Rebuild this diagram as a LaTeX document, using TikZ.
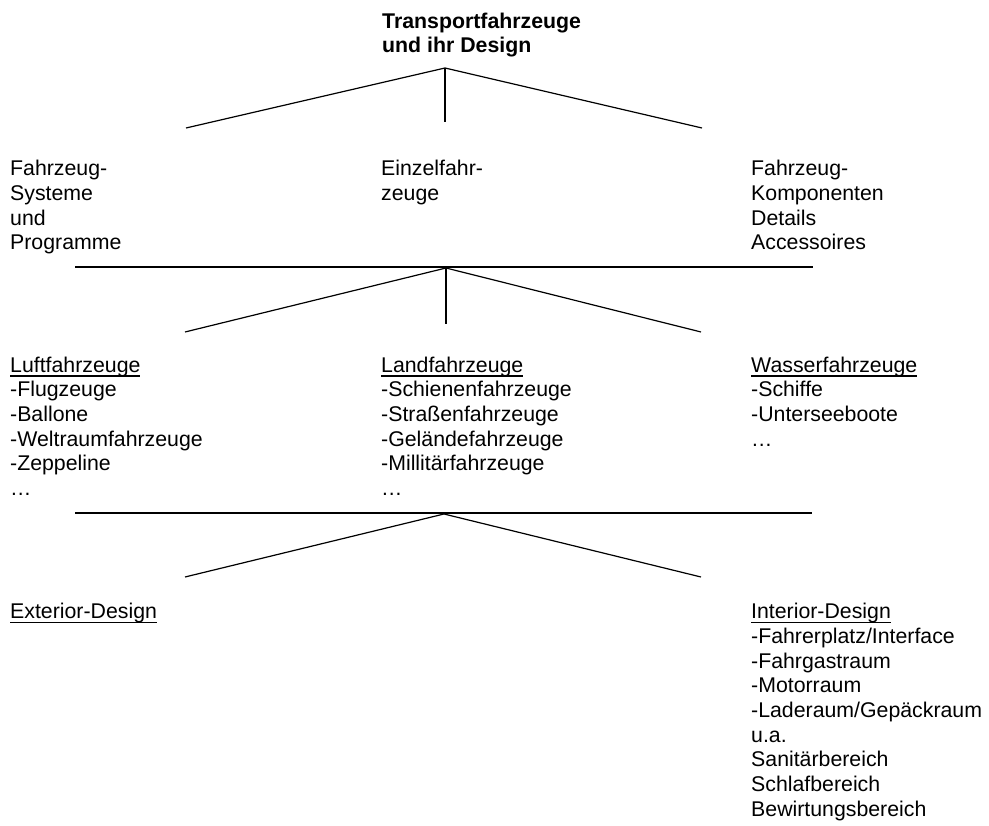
\documentclass[tikz,border=0pt]{standalone}
\usepackage{fontspec}
\setmainfont{Liberation Sans}
\newcommand\topstrut{\rule{0pt}{16pt}}
\newcommand\ulin[1]{\setbox0\hbox{#1}\rlap{\rule[-4.6pt]{\wd0}{1.4pt}}#1}
\begin{document}
\begin{tikzpicture}[x=1pt,y=-1pt,
  txt/.style={anchor=north west,inner sep=0pt,align=left,
    font=\fontsize{21.3}{24.7}\selectfont},
  ttl/.style={txt,font=\fontsize{21.3}{24.2}\selectfont\bfseries},
  conn/.style={line width=1.2pt,black}]
\useasboundingbox (0,0) rectangle (989,826);
% texts (y = first baseline - 16)
\node[ttl] (title) at (382,12.5) {\topstrut Transportfahrzeuge\\und ihr Design};
\node[txt] (sys) at (10,159.5) {\topstrut Fahrzeug-\\Systeme\\und\\Programme};
\node[txt] (einzel) at (381,159.5) {\topstrut Einzelfahr-\\zeuge};
\node[txt] (komp) at (751,159.5) {\topstrut Fahrzeug-\\Komponenten\\Details\\Accessoires};
\node[txt] (luft) at (10,356) {\topstrut\ulin{Luftfahrzeuge}\\-Flugzeuge\\-Ballone\\-Weltraumfahrzeuge\\-Zeppeline\\\dots};
\node[txt] (land) at (381,356) {\topstrut\ulin{Landfahrzeuge}\\-Schienenfahrzeuge\\-Straßenfahrzeuge\\-Geländefahrzeuge\\-Millitärfahrzeuge\\\dots};
\node[txt] (wasser) at (751,356) {\topstrut\ulin{Wasserfahrzeuge}\\-Schiffe\\-Unterseeboote\\\dots};
\node[txt] (ext) at (10,602.5) {\topstrut\ulin{Exterior-Design}};
\node[txt] (int) at (751,602.5) {\topstrut\ulin{Interior-Design}\\-Fahrerplatz/Interface\\-Fahrgastraum\\-Motorraum\\-Laderaum/Gepäckraum\\u.a.\\Sanitärbereich\\Schlafbereich\\Bewirtungsbereich};
% tree coordinates
\coordinate (t0) at (445,68);
\coordinate (t1) at (445,122);
\coordinate (tL) at (186,128);
\coordinate (tR) at (702,128);
\coordinate (h2a) at (75,267);
\coordinate (h2b) at (813,267);
\coordinate (m0) at (446,268);
\coordinate (m1) at (446,324);
\coordinate (mL) at (185,332);
\coordinate (mR) at (701,332);
\coordinate (h3a) at (75,513);
\coordinate (h3b) at (812,513);
\coordinate (b0) at (444,514);
\coordinate (bL) at (185,577);
\coordinate (bR) at (701,577);
% connectors
\draw[conn] (tL) -- (t0) -- (tR);
\draw[conn] (t0) -- (t1);
\draw[conn] (h2a) -- (h2b);
\draw[conn] (mL) -- (m0) -- (mR);
\draw[conn] (m0) -- (m1);
\draw[conn] (h3a) -- (h3b);
\draw[conn] (bL) -- (b0) -- (bR);
\end{tikzpicture}
\end{document}
